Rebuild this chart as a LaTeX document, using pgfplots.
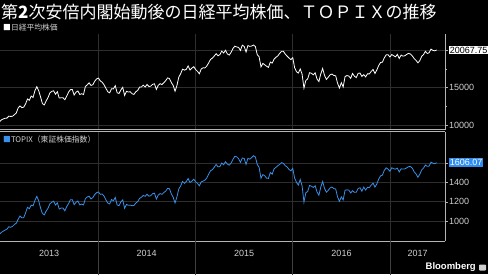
\documentclass[border=0pt]{standalone}
\usepackage{fontspec}
\setmainfont{Liberation Sans}
\newfontfamily\cjk{Noto Sans CJK JP}
\usepackage{pgfplots}
\usepackage{pgfplotstable}
\pgfplotsset{compat=1.18}
\definecolor{gridgray}{HTML}{2E2E2E}
\definecolor{axgray}{HTML}{B4B4B4}
\definecolor{lblgray}{HTML}{D0D0D0}
\definecolor{sepgray}{HTML}{404040}
\definecolor{bbblue}{HTML}{3A8FE8}
\definecolor{tagblue}{HTML}{2F8CF0}

\pgfplotstableread{
w nk tp
0 10395 859.8
1 10688 881
2 10801 894
3 10913 906
4 10926 915
5 11191 940
6 11153 934
7 11173 944
8 11385 964
9 11606 977
10 12283 1017
11 12560 1052
12 12338 1033
13 12397 1035
14 12833 1085
15 13485 1142
16 13316 1128
17 13884 1165
18 13694 1158
19 14607 1214
20 15138 1256
21 14612 1211
22 13774 1135
23 12877 1078
24 12686 1064
25 13230 1103
26 13677 1133
27 14309 1178
28 14506 1195
29 14589 1206
30 14129 1166
31 14466 1189
32 13615 1125
33 13650 1135
34 13660 1135
35 13389 1106
36 13861 1149
37 14404 1181
38 14742 1222
39 14760 1222
40 14024 1170
41 14404 1195
42 14561 1208
43 14088 1168
44 14201 1176
45 14086 1167
46 15165 1232
47 15381 1250
48 15661 1258
49 15299 1230
50 15403 1244
51 15870 1275
52 16178 1295
53 16291 1302
54 15912 1277
55 15734 1281
56 15391 1259
57 14914 1220
58 14462 1187
59 14313 1177
60 14865 1223
61 14841 1211
62 15274 1245
63 14327 1167
64 14224 1159
65 14696 1199
66 15063 1220
67 13960 1132
68 14516 1173
69 14429 1163
70 14457 1165
71 14199 1159
72 14097 1162
73 14462 1187
74 14632 1201
75 15077 1235
76 15097 1247
77 15349 1266
78 15095 1257
79 15437 1279
80 15164 1258
81 15215 1264
82 15457 1284
83 15523 1289
84 14778 1228
85 15318 1270
86 15539 1285
87 15425 1277
88 15669 1296
89 15948 1310
90 16321 1339
91 16229 1336
92 15708 1282
93 15300 1247
94 14532 1187
95 15291 1250
96 16414 1333
97 16880 1364
98 17490 1412
99 17357 1392
100 17460 1410
101 17920 1441
102 17371 1401
103 17621 1414
104 17818 1435
105 17451 1408
106 17197 1392
107 16864 1366
108 17511 1407
109 17674 1415
110 17648 1425
111 17913 1447
112 18332 1488
113 18798 1523
114 18971 1534
115 19254 1560
116 19560 1588
117 19286 1563
118 19435 1566
119 19908 1603
120 19653 1585
121 20020 1616
122 19532 1592
123 19379 1580
124 19733 1603
125 20264 1641
126 20563 1673
127 20461 1667
128 20407 1649
129 19990 1611
130 20706 1655
131 20540 1650
132 19780 1589
133 20650 1652
134 20544 1643
135 20585 1659
136 20724 1679
137 20519 1666
138 19436 1589
139 19136 1557
140 17792 1445
141 18264 1482
142 18070 1471
143 17880 1446
144 17725 1443
145 18438 1505
146 18291 1487
147 18825 1542
148 19083 1558
149 19265 1575
150 19597 1588
151 19879 1607
152 19883 1599
153 19504 1575
154 19230 1562
155 18986 1536
156 18769 1522
157 19033 1547
158 17697 1447
159 17147 1402
160 16958 1374
161 17518 1432
162 16819 1367
163 14952 1196
164 15967 1294
165 16188 1307
166 17014 1370
167 16938 1362
168 16724 1349
169 17002 1367
170 16164 1301
171 15821 1268
172 16848 1352
173 17572 1411
174 16666 1340
175 16106 1299
176 16412 1319
177 16736 1344
178 16834 1353
179 16642 1337
180 16601 1333
181 15599 1250
182 14952 1204
183 15682 1251
184 15106 1220
185 16497 1320
186 16627 1324
187 16569 1322
188 16254 1292
189 16919 1315
190 16545 1298
191 16360 1299
192 16925 1338
193 16965 1346
194 16519 1310
195 16754 1352
196 16449 1322
197 16860 1350
198 16856 1348
199 17184 1373
200 17446 1393
201 16905 1353
202 17374 1384
203 17968 1436
204 18381 1469
205 18426 1477
206 18996 1526
207 19401 1553
208 19427 1540
209 19114 1518
210 19454 1554
211 19287 1544
212 19137 1539
213 19467 1549
214 18918 1510
215 19378 1543
216 19234 1540
217 19283 1542
218 19469 1553
219 19604 1565
220 19521 1566
221 19262 1549
222 18909 1512
223 18664 1489
224 18335 1455
225 18620 1486
226 19197 1531
227 19445 1550
228 19883 1582
229 19590 1569
230 19686 1571
231 20177 1612
232 20013 1601
233 19943 1595
234 20067.75 1606.07
}\datatable

\begin{document}
\begin{tikzpicture}[x=1pt,y=1pt]
\fill[black] (0,0) rectangle (488,274);
\coordinate (UP) at (0pt,240pt);
\coordinate (LO) at (0pt,33pt);

% title and legends
\node[anchor=west, text=white, inner sep=0pt, font=\cjk\fontsize{17}{17}\selectfont] at (1,262) {第\textbf{2}次安倍内閣始動後の日経平均株価、ＴＯＰＩＸの推移};
\node[anchor=west, text=lblgray, inner sep=0pt, font=\cjk\fontsize{7.8}{7.8}\selectfont] at (3,246) {{\color{white}■}日経平均株価};
\node[anchor=west, text=lblgray, inner sep=0pt, font=\cjk\fontsize{7.8}{7.8}\selectfont] at (3,134) {{\color{bbblue}■}TOPIX（東証株価指数）};
\node[anchor=east, text=white, inner sep=0pt, font=\bfseries\fontsize{9.5}{9.5}\selectfont] at (476,6.5) {Bloomberg};
\fill[lblgray, rounded corners=0.8pt] (479,3.5) rectangle (486,9.5);

\pgfplotsset{
  panel/.style={
    scale only axis, width=445pt,
    xmin=0.3, xmax=238.5,
    clip mode=individual,
    scaled y ticks=false,
    axis y line*=right, axis x line*=bottom,
    axis line style={axgray, -, line width=0.6pt},
    xtick={52.71,104.86,157,209.29}, xticklabels={},
    xmajorgrids, ymajorgrids,
    major grid style={gridgray, line width=0.6pt},
    tick align=outside, major tick length=3pt, minor tick length=2pt,
    ytick style={axgray, line width=0.5pt},
    yticklabel style={text=lblgray, font=\fontsize{9}{9}\selectfont, inner sep=1pt},
  }
}

% upper panel: Nikkei
\begin{axis}[panel, at={(UP)}, anchor=north west, height=95.5pt,
  ymin=9400, ymax=22200,
  xtick style={draw=none},
  ytick={10000,15000,20000}, yticklabels={10000,15000,{}},
  minor ytick={12500,17500},
]
\addplot[white, line width=0.8pt] table[x=w, y=nk] {\datatable};
\node[anchor=west, fill=white, text=black, inner sep=1.2pt, font=\fontsize{9}{9}\selectfont] at (axis cs:240.3,20067.75) {20067.75};
\end{axis}

% lower panel: TOPIX
\begin{axis}[panel, at={(LO)}, anchor=south west, height=109.3pt,
  ymin=792, ymax=1928.6,
  xtick style={draw=none},
  ytick={1000,1200,1400,1600}, yticklabels={1000,1200,1400,{}},
  extra x ticks={26.6,78.8,131,183.1,223.9},
  extra x tick labels={2013,2014,2015,2016,2017},
  extra x tick style={grid=none, major tick length=0pt, xticklabel style={text=lblgray, font=\fontsize{9}{9}\selectfont, yshift=-6pt}},
]
\addplot[bbblue, line width=0.8pt] table[x=w, y=tp] {\datatable};
\draw[axgray, line width=0.6pt] (rel axis cs:0,1) -- (rel axis cs:1,1);
\draw[sepgray, line width=0.6pt] (axis cs:52.71,792) -- ++(0,-21pt);
\draw[sepgray, line width=0.6pt] (axis cs:104.86,792) -- ++(0,-21pt);
\draw[sepgray, line width=0.6pt] (axis cs:157,792) -- ++(0,-21pt);
\draw[sepgray, line width=0.6pt] (axis cs:209.29,792) -- ++(0,-21pt);
\node[anchor=west, fill=tagblue, text=white, inner sep=1.2pt, font=\fontsize{9}{9}\selectfont] at (axis cs:240.3,1606.07) {1606.07};
\end{axis}

\pgfresetboundingbox
\path[use as bounding box] (0,0) rectangle (488,274);
\end{tikzpicture}
\end{document}
